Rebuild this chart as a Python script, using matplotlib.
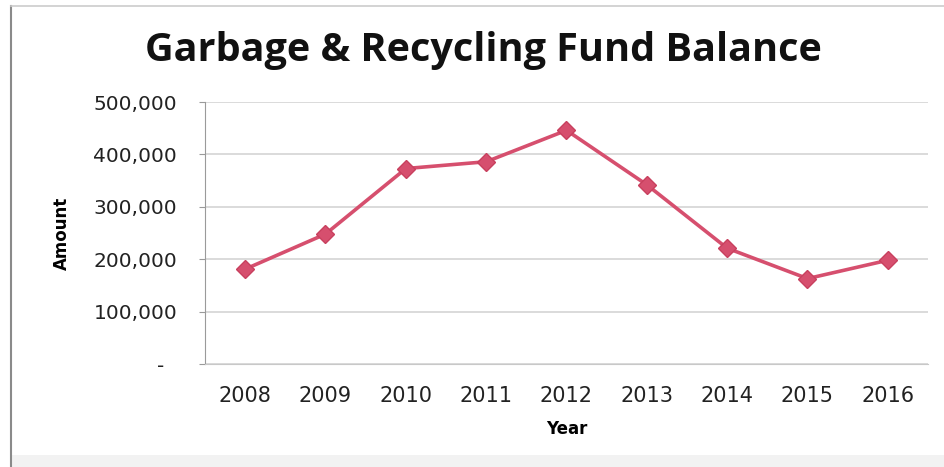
import matplotlib
matplotlib.use("Agg")
import matplotlib.pyplot as plt
from matplotlib.lines import Line2D
from matplotlib.patches import Rectangle
from matplotlib.ticker import FuncFormatter

years = ["2008", "2009", "2010", "2011", "2012", "2013", "2014", "2015", "2016"]
amount = [181000, 248000, 373000, 386000, 446000, 342000, 221000, 163000, 198000]
yticks = [0, 100000, 200000, 300000, 400000, 500000]

LINE = "#D64F6E"
W, H = 945, 467

fig = plt.figure(figsize=(W / 100, H / 100), dpi=100)
ax = fig.add_axes([205 / W, (H - 364) / H, (928 - 205) / W, (364 - 102) / H])

x = range(len(years))
ax.plot(x, amount, color=LINE, lw=2.6, marker="D", ms=9,
        markerfacecolor=LINE, markeredgecolor="#C8405E", zorder=3)

ax.set_xlim(-0.5, len(years) - 0.5)
ax.set_ylim(0, 500000)
ax.set_xticks(list(x))
ax.set_xticklabels(years)
ax.set_yticks(yticks)
ax.yaxis.set_major_formatter(FuncFormatter(lambda v, _: "-  " if v == 0 else f"{int(v):,}"))
ax.grid(axis="y", color="#d4d4d4", lw=1.2)
ax.set_axisbelow(True)

for s in ("top", "right"):
    ax.spines[s].set_visible(False)
ax.spines["left"].set_color("#9a9a9a")
ax.spines["bottom"].set_color("#c8c8c8")
ax.tick_params(axis="y", length=4, color="#9a9a9a", pad=16, labelsize=14.5, labelcolor="#222222")
ax.tick_params(axis="x", length=0, pad=16, labelsize=15, labelcolor="#222222")

ax.set_ylabel("Amount", fontsize=12, fontweight="bold", labelpad=16)
ax.set_xlabel("Year", fontsize=12, fontweight="bold", labelpad=10)

fig.text(483 / W, 1 - 51 / H, "Garbage & Recycling Fund Balance", ha="center", va="center",
         fontsize=28.5, fontweight="bold", family="Open Sans", color="#111111")

# chart frame
fig.add_artist(Line2D([11 / W, 11 / W], [0, 1 - 6 / H], color="#8a8a8a", lw=1.5))
fig.add_artist(Line2D([11 / W, 1], [1 - 6 / H, 1 - 6 / H], color="#cccccc", lw=1.2))
fig.add_artist(Rectangle((11 / W, 0), 1, 12 / H, color="#f2f2f2", lw=0, zorder=0))

fig.savefig("out.png", dpi=100)
